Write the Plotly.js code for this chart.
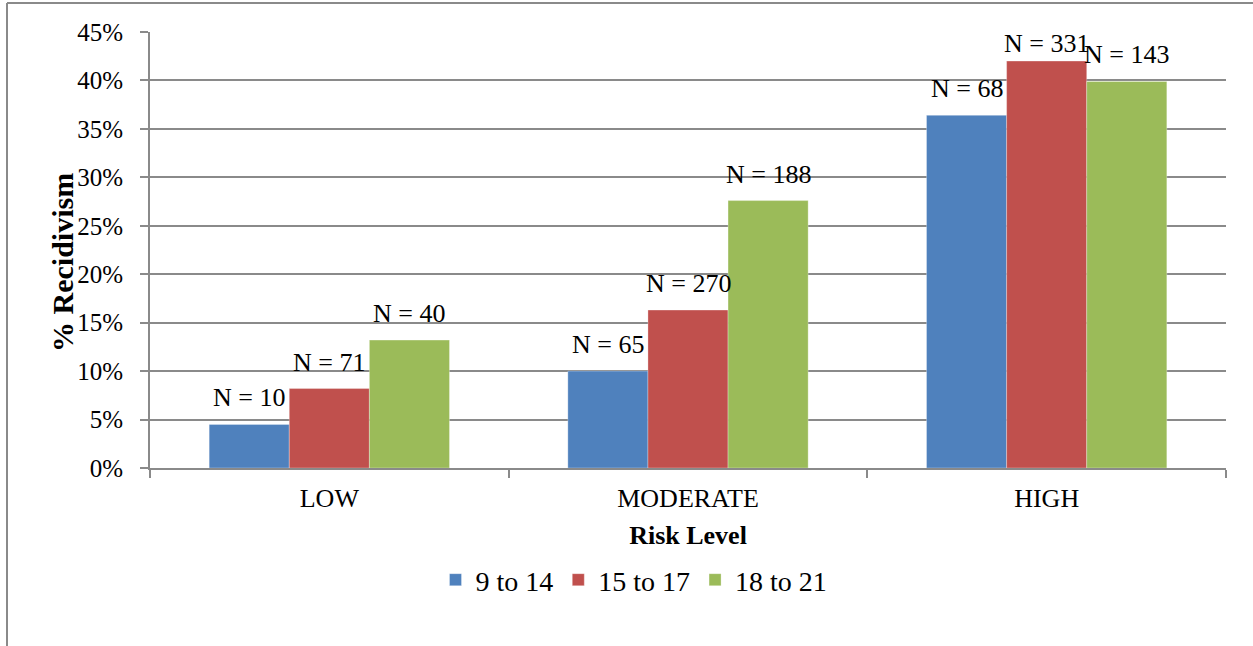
<!DOCTYPE html>
<html>
<head>
<meta charset="utf-8">
<script src="https://cdn.plot.ly/plotly-3.0.1.min.js"></script>
<style>html,body{margin:0;padding:0;background:#fff;}#chart{width:1253px;height:646px;}</style>
</head>
<body>
<div id="chart"></div>
<script>
// ---- data ----
const riskLevels = ["LOW", "MODERATE", "HIGH"];
const seriesNames = ["9 to 14", "15 to 17", "18 to 21"];
const pct_9_14  = [4.5, 10.0, 36.4];
const pct_15_17 = [8.2, 16.3, 42.0];
const pct_18_21 = [13.2, 27.6, 39.9];
const n_9_14  = [10, 65, 68];
const n_15_17 = [71, 270, 331];
const n_18_21 = [40, 188, 143];
const yTickVals = [0, 5, 10, 15, 20, 25, 30, 35, 40, 45];

// ---- styling ----
const colors = ["#4F81BD", "#C0504D", "#9BBB59"];
const gray = "#8a8a8a";
const serif = "Liberation Serif";
const bargap = 0.33;
const M = {l: 150, r: 27, t: 32, b: 178};
const W = 1253, H = 646;
const plotW = W - M.l - M.r, plotH = H - M.t - M.b;
const yMax = 45;

const allPct = [pct_9_14, pct_15_17, pct_18_21];
const allN = [n_9_14, n_15_17, n_18_21];

const traces = allPct.map((vals, j) => ({
  type: "bar",
  name: seriesNames[j],
  x: riskLevels,
  y: vals,
  marker: {color: colors[j], line: {color: "rgba(255,255,255,0.6)", width: 0.5}},
  hoverinfo: "skip"
}));

// N labels above bars
const barW = (1 - bargap) / 3;
const annotations = [];
allPct.forEach((vals, j) => {
  vals.forEach((v, i) => {
    const pxAbove = (yMax - v) / yMax * plotH;
    const shift = Math.min(10, pxAbove - 28);
    annotations.push({
      x: i + (j - 1) * barW, y: v, xref: "x", yref: "y",
      text: "N = " + allN[j][i], showarrow: false,
      yanchor: "bottom", xanchor: "center", yshift: shift,
      font: {family: serif, size: 26, color: "#000"}
    });
  });
});

// frame lines (left and top)
const px2x = p => (p - M.l) / plotW;
const py2y = p => (H - M.b - p) / plotH;
const shapes = [
  {type: "line", xref: "paper", yref: "paper", x0: px2x(7), x1: px2x(7), y0: py2y(3), y1: py2y(H), line: {color: gray, width: 2}},
  {type: "line", xref: "paper", yref: "paper", x0: px2x(7), x1: px2x(W), y0: py2y(3), y1: py2y(3), line: {color: gray, width: 2}}
];

// y-axis title placed as a rotated annotation (slightly below plot centre, as in the reference)
annotations.push({
  xref: "paper", yref: "paper", x: px2x(62), y: py2y(263),
  xanchor: "center", yanchor: "middle", textangle: -90, showarrow: false,
  text: "<b>% Recidivism</b>", font: {family: serif, size: 30, color: "#000"}
});

const layout = {
  width: W, height: H,
  margin: M,
  paper_bgcolor: "#fff", plot_bgcolor: "#fff",
  barmode: "group", bargap: bargap, bargroupgap: 0,
  showlegend: true,
  font: {family: serif, color: "#000"},
  xaxis: {
    type: "category",
    tickson: "boundaries",
    ticks: "outside", ticklen: 8, tickcolor: gray, tickwidth: 2,
    showline: true, linecolor: gray, linewidth: 2,
    showgrid: false, zeroline: false,
    tickfont: {family: serif, size: 26, color: "#000"},
    ticklabelstandoff: 6,
    title: {text: "<b>Risk Level</b>", font: {family: serif, size: 26, color: "#000"}, standoff: 14},
    automargin: false
  },
  yaxis: {
    range: [0, yMax],
    tickvals: yTickVals,
    ticktext: yTickVals.map(v => v + "%"),
    ticks: "outside", ticklen: 8, tickcolor: gray, tickwidth: 2,
    showline: true, linecolor: gray, linewidth: 2,
    showgrid: true, gridcolor: gray, gridwidth: 2,
    zeroline: false,
    tickfont: {family: serif, size: 25, color: "#000"},
    ticklabelstandoff: 12,
    automargin: false
  },
  legend: {
    orientation: "h",
    x: px2x(634), xanchor: "center",
    y: py2y(580), yanchor: "middle",
    font: {family: serif, size: 28, color: "#000"},
    itemclick: false, itemdoubleclick: false,
    traceorder: "normal"
  },
  annotations: annotations,
  shapes: shapes
};

Plotly.newPlot("chart", traces, layout, {displayModeBar: false, staticPlot: true});
</script>
</body>
</html>
